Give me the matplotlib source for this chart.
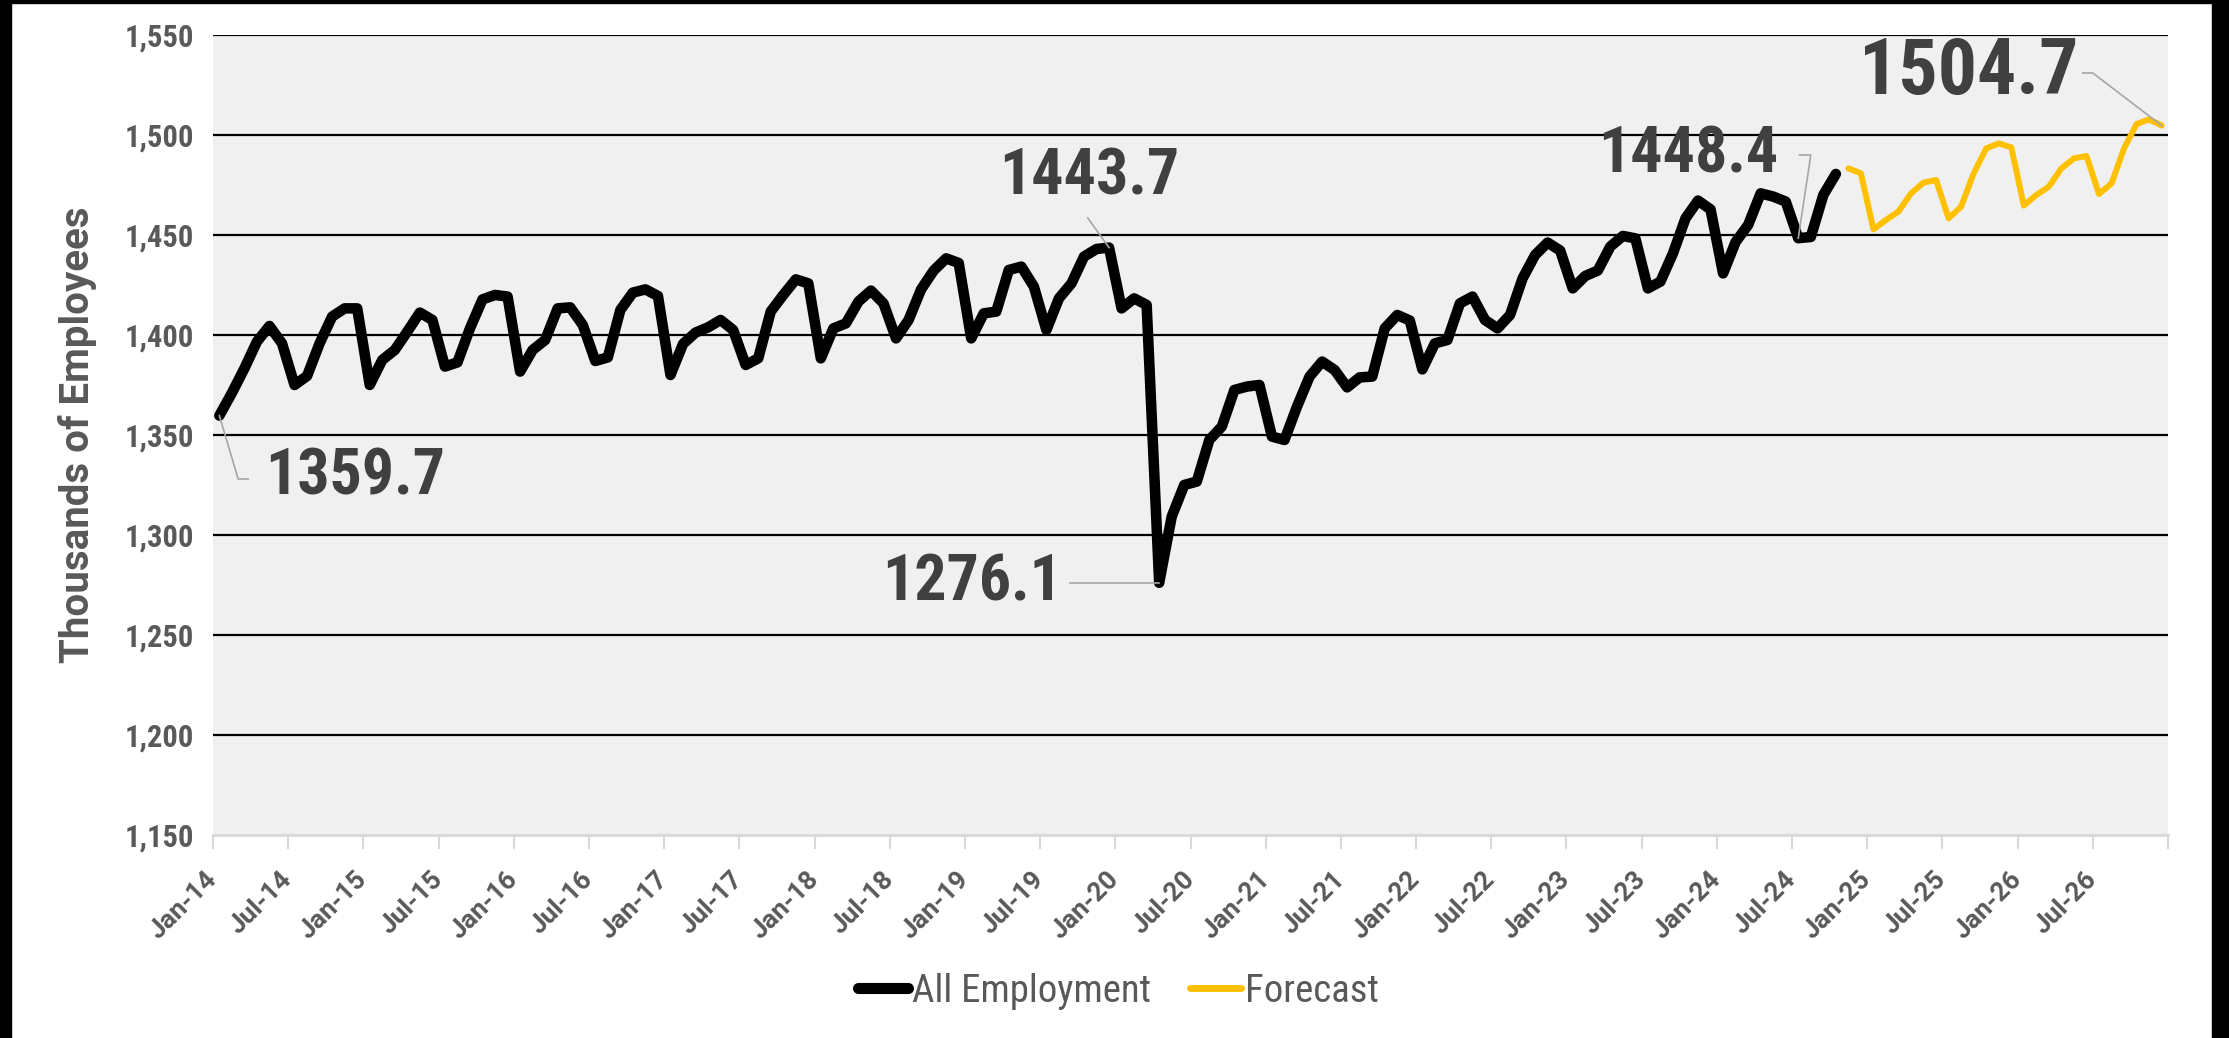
import matplotlib
matplotlib.use("Agg")
import matplotlib.pyplot as plt
from matplotlib.patches import Rectangle
from matplotlib.lines import Line2D

# monthly employment, thousands (Jan-14 .. Oct-24)
actual = [
    1359.7, 1371.0, 1383.3, 1396.7, 1404.5, 1395.8, 1375.0, 1379.5, 1395.8, 1409.2, 1413.3, 1413.3,
    1375.0, 1387.5, 1392.5, 1401.7, 1411.2, 1407.5, 1384.2, 1386.3, 1403.3, 1417.8, 1420.0, 1419.2,
    1381.7, 1392.5, 1397.5, 1413.3, 1413.8, 1405.0, 1387.0, 1388.8, 1412.5, 1421.2, 1422.8, 1419.5,
    1380.0, 1395.5, 1401.2, 1403.8, 1407.5, 1402.5, 1385.0, 1388.3, 1411.7, 1420.0, 1427.8, 1425.8,
    1388.3, 1403.3, 1405.8, 1416.7, 1422.2, 1415.8, 1398.3, 1407.5, 1422.8, 1432.2, 1438.3, 1436.0,
    1398.3, 1410.8, 1411.7, 1432.5, 1434.2, 1424.2, 1402.5, 1418.3, 1425.8, 1439.2, 1443.0, 1443.7,
    1413.3, 1418.3, 1415.0, 1276.1, 1309.2, 1325.0, 1326.7, 1347.5, 1354.2, 1372.5, 1374.2, 1375.0,
    1349.2, 1347.5, 1364.2, 1379.2, 1386.7, 1382.5, 1373.8, 1378.8, 1379.2, 1403.3, 1410.0, 1407.2,
    1382.8, 1395.8, 1397.5, 1415.8, 1419.2, 1407.5, 1403.3, 1410.0, 1428.3, 1440.0, 1446.2, 1442.2,
    1423.3, 1429.5, 1432.2, 1444.2, 1449.5, 1448.3, 1423.3, 1426.7, 1440.8, 1458.3, 1467.2, 1462.8,
    1430.8, 1446.5, 1455.0, 1470.8, 1469.2, 1466.7, 1448.4, 1449.0, 1470.0, 1480.5,
]
# forecast (Nov-24 .. Dec-26)
forecast = [
    1483.3, 1480.8,
    1452.8, 1457.5, 1461.7, 1470.8, 1476.2, 1477.5, 1458.3, 1464.2, 1480.8, 1493.3, 1495.8, 1493.8,
    1464.7, 1470.0, 1474.2, 1483.3, 1488.3, 1489.5, 1470.5, 1475.8, 1493.3, 1505.5, 1507.8, 1504.7,
]
months = ["Jan", "Jul"]
years = list(range(14, 27))
tick_labels = [f"{m}-{y}" for y in years for m in months]

narrow = ["Roboto Condensed", "DejaVu Sans"]
wide = ["Roboto", "DejaVu Sans"]
gray = "#595959"
dark = "#404040"
lead = "#a6a6a6"

fig = plt.figure(figsize=(22.29, 10.38), dpi=100)
ax = fig.add_axes([0.0956, 0.1956, 0.877, 0.7707])
ax.set_facecolor("#f0f0f0")

xa = [i + 0.5 for i in range(len(actual))]
xf = [len(actual) + i + 0.5 for i in range(len(forecast))]
ax.plot(xa, actual, color="black", lw=7.6, solid_joinstyle="round", solid_capstyle="round", zorder=3)
ax.plot(xf, forecast, color="#ffc000", lw=4.3, solid_joinstyle="round", solid_capstyle="round", zorder=3)

ax.set_xlim(0, 156)
ax.set_ylim(1150, 1550)
ax.set_yticks(range(1150, 1551, 50))
ax.set_yticklabels([f"{v:,}" for v in range(1150, 1551, 50)], family=narrow,
                   fontweight="bold", fontsize=22, color=gray)
for v in range(1200, 1551, 50):
    ax.axhline(v, color="black", lw=1.6, zorder=1)

ax.set_xticks(range(0, 157, 6))
ax.set_xticklabels(tick_labels + [""], rotation=45, ha="right", va="center", rotation_mode="anchor",
                   family=wide, fontweight="bold", fontsize=19, color=gray)
ax.tick_params(axis="x", length=10, width=1.5, color="#d9d9d9", pad=19)
ax.tick_params(axis="y", length=0, pad=14)
for s in ["left", "right", "top"]:
    ax.spines[s].set_visible(False)
ax.spines["bottom"].set_color("#d9d9d9")
ax.spines["bottom"].set_linewidth(2)

ax.set_ylabel("Thousands of Employees", family=wide, fontweight="bold", fontsize=29, color=gray)
ax.yaxis.set_label_coords(-0.0593, 0.5)

# data callouts
def callout(x, y, text, tx, ty, path, size=46):
    ax.text(tx, ty, text, family=narrow, fontweight="bold", fontsize=size,
            color=dark, ha="center", va="center", zorder=4)
    px = [p[0] for p in path] + [x]
    py = [p[1] for p in path] + [y]
    ax.plot(px, py, color=lead, lw=1.2, zorder=4)

callout(xa[0], actual[0], "1359.7", 11.3, 1329, [(2.8, 1328), (2.0, 1328)])
callout(xa[71], actual[71], "1443.7", 69.9, 1479, [(69.8, 1458.5)])
callout(xa[75], actual[75], "1276.1", 60.6, 1276, [(68.4, 1276.1)])
callout(xa[126], actual[126], "1448.4", 117.7, 1490, [(126.6, 1490), (127.5, 1490)])
callout(xf[-1], forecast[-1], "1504.7", 140.1, 1531, [(149.2, 1531), (150.0, 1531)], size=56)

handles = [Line2D([], [], color="black", lw=8, solid_capstyle="round"),
           Line2D([], [], color="#ffc000", lw=5, solid_capstyle="round")]
fig.legend(handles, ["All Employment", "Forecast"], loc="center", bbox_to_anchor=(0.5016, 0.045),
           ncol=2, frameon=False, handlelength=1.3, handletextpad=0.1, columnspacing=1.0,
           prop={"family": narrow, "size": 28}, labelcolor=gray)

# black frame edges of the screenshot
W, H = 2229, 1038
fig.patches.append(Rectangle((0, 0), 11 / W, 1, transform=fig.transFigure, color="black", zorder=10))
fig.patches.append(Rectangle((0, 1 - 3 / H), 1, 3 / H, transform=fig.transFigure, color="black", zorder=10))
fig.patches.append(Rectangle((1 - 17 / W, 0), 17 / W, 1, transform=fig.transFigure, color="black", zorder=10))

fig.savefig("out.png", dpi=100)
